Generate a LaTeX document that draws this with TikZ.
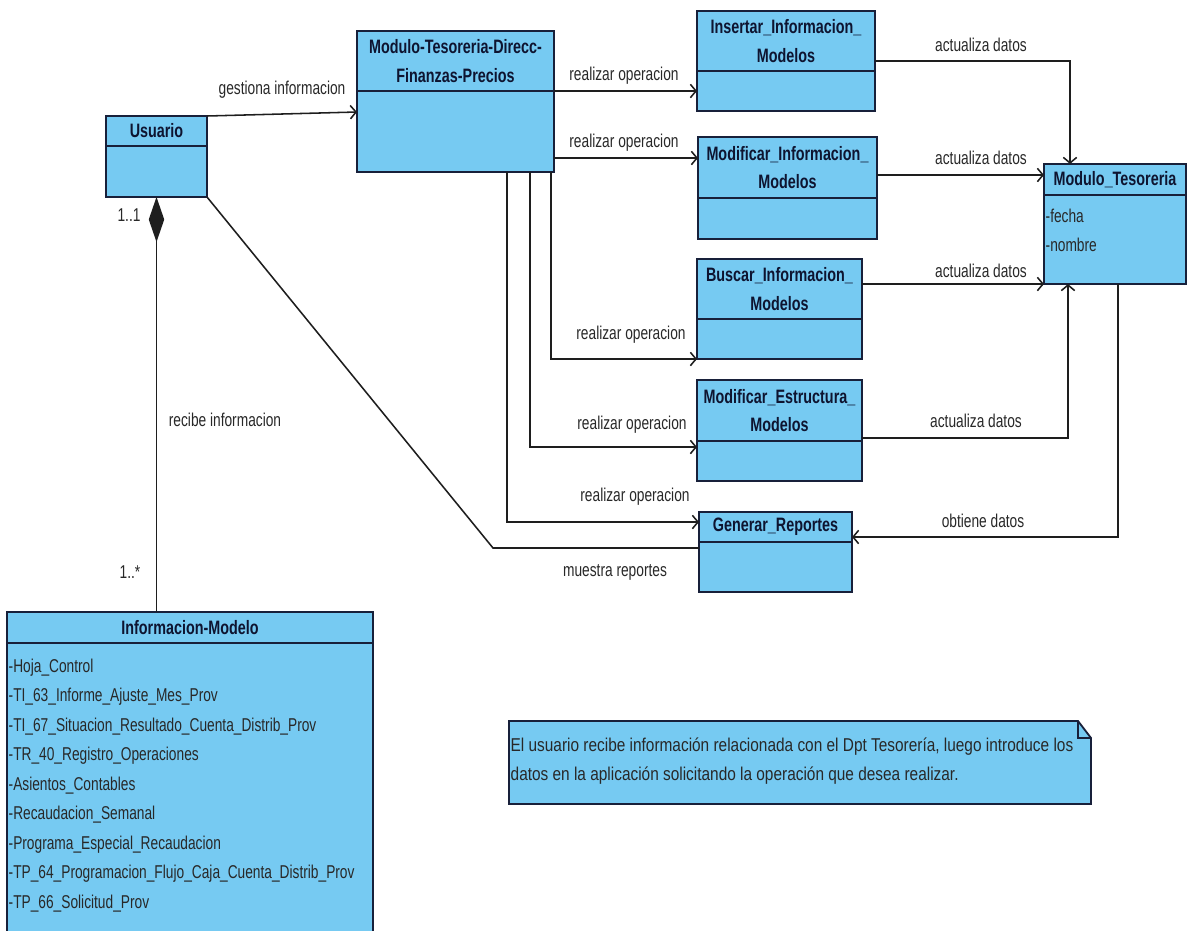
\documentclass[tikz,border=0pt]{standalone}
\usepackage{fontspec}
\setmainfont{Liberation Sans}[FakeStretch=0.74]
\newfontfamily\notefont{Liberation Sans}[FakeStretch=0.83]
\usetikzlibrary{arrows.meta,positioning}
\definecolor{umlfill}{RGB}{118,202,242}
\definecolor{umlline}{RGB}{24,32,58}
\definecolor{umltext}{RGB}{14,20,48}
\definecolor{linkcol}{RGB}{30,30,30}
\definecolor{txtcol}{RGB}{40,40,40}
\newdimen\pxu \pxu=0.025cm
\tikzset{
  hdr/.style={rectangle, draw=umlline, fill=umlfill, line width=1.3pt, inner sep=1pt, outer sep=0pt, align=center, text=umltext, font=\fontsize{13.8}{20.5}\selectfont\bfseries, anchor=north west},
  bdy/.style={rectangle, draw=umlline, fill=umlfill, line width=1.3pt, inner sep=0pt, outer sep=0pt},
  attr/.style={anchor=north west, align=left, inner sep=1pt, text=txtcol, font=\fontsize{13.2}{21}\selectfont},
  lbl/.style={inner sep=1pt, text=txtcol, font=\fontsize{13.2}{21}\selectfont},
  arr/.style={draw=linkcol, line width=1.1pt, -{Straight Barb[length=4pt,width=9.5pt]}},
  lnk/.style={draw=linkcol, line width=1.1pt}
}

\begin{document}
\begin{tikzpicture}[x=0.025cm, y=-0.025cm]
\useasboundingbox (0,0) rectangle (1188,930);

% classes
\node[hdr, minimum width=101\pxu, minimum height=30\pxu] (usr) at (106,116) {Usuario};
\node[bdy, below=0pt of usr, minimum width=101\pxu, minimum height=51\pxu] (usr-b) {};

\node[hdr, minimum width=197\pxu, minimum height=60\pxu] (mtd) at (357,31) {Modulo-Tesoreria-Direcc-\\Finanzas-Precios};
\node[bdy, below=0pt of mtd, minimum width=197\pxu, minimum height=81\pxu] (mtd-b) {};

\node[hdr, minimum width=178\pxu, minimum height=60\pxu] (ins) at (697,11) {Insertar\_Informacion\_\\Modelos};
\node[bdy, below=0pt of ins, minimum width=178\pxu, minimum height=40\pxu] (ins-b) {};

\node[hdr, minimum width=179\pxu, minimum height=61\pxu] (mim) at (698,137) {Modificar\_Informacion\_\\Modelos};
\node[bdy, below=0pt of mim, minimum width=179\pxu, minimum height=41\pxu] (mim-b) {};

\node[hdr, minimum width=165\pxu, minimum height=60\pxu] (bus) at (697,259) {Buscar\_Informacion\_\\Modelos};
\node[bdy, below=0pt of bus, minimum width=165\pxu, minimum height=40\pxu] (bus-b) {};

\node[hdr, minimum width=165\pxu, minimum height=61\pxu] (mes) at (697,380) {Modificar\_Estructura\_\\Modelos};
\node[bdy, below=0pt of mes, minimum width=165\pxu, minimum height=40\pxu] (mes-b) {};

\node[hdr, minimum width=153\pxu, minimum height=30\pxu] (gen) at (699,512) {Generar\_Reportes};
\node[bdy, below=0pt of gen, minimum width=153\pxu, minimum height=50\pxu] (gen-b) {};

\node[hdr, minimum width=142\pxu, minimum height=31\pxu] (mt) at (1044,164) {Modulo\_Tesoreria};
\node[bdy, below=0pt of mt, minimum width=142\pxu, minimum height=89\pxu] (mt-b) {};
\node[attr] (mt-a) at (1044,207) {-fecha\\-nombre};

\node[hdr, minimum width=366\pxu, minimum height=31\pxu] (inf) at (7,612) {Informacion-Modelo};
\node[bdy, below=0pt of inf, minimum width=366\pxu, minimum height=300\pxu] (inf-b) {};
\node[attr] (inf-a) at (7,657) {-Hoja\_Control\\-TI\_63\_Informe\_Ajuste\_Mes\_Prov\\-TI\_67\_Situacion\_Resultado\_Cuenta\_Distrib\_Prov\\-TR\_40\_Registro\_Operaciones\\-Asientos\_Contables\\-Recaudacion\_Semanal\\-Programa\_Especial\_Recaudacion\\-TP\_64\_Programacion\_Flujo\_Caja\_Cuenta\_Distrib\_Prov\\-TP\_66\_Solicitud\_Prov};

% composition Usuario - Informacion-Modelo
\draw[lnk, {Diamond[length=32pt,width=11pt]}-] (usr-b.south) -- (usr-b.south |- inf.north);
\node[lbl] (m11) at (129,215) {1..1};
\node[lbl] (rec) at (225,420) {recibe informacion};
\node[lbl] (m1n) at (130,572) {1..*};

% Usuario -> modulo
\draw[arr] (usr.north east) -- (mtd-b.west |- 0,112);
\node[lbl] (l-gest) at (282,90) {gestiona informacion};
\draw[lnk] (usr-b.south east) -- (493,548) -- (gen-b.west |- 0,548);
\node[lbl] (l-mues) at (615,572) {muestra reportes};

% realizar operacion
\draw[arr] (mtd-b.north east) -- (mtd-b.north east -| ins-b.west);
\node[lbl] (l-op1) at (624,76) {realizar operacion};
\draw[arr] (mtd-b.east |- 0,158) -- (mim.west |- 0,158);
\node[lbl] (l-op2) at (624,143) {realizar operacion};
\draw[arr] (mtd-b.south -| 551,0) |- (bus-b.south west);
\node[lbl] (l-op3) at (631,335) {realizar operacion};
\draw[arr] (mtd-b.south -| 530,0) |- (mes-b.west |- 0,447);
\node[lbl] (l-op4) at (632,425) {realizar operacion};
\draw[arr] (mtd-b.south -| 507,0) |- (gen.west |- 0,522);
\node[lbl] (l-op5) at (635,497) {realizar operacion};

% actualiza datos
\draw[arr] (ins.east |- 0,61) -| (mt.north -| 1070,0);
\node[lbl] (l-ac1) at (981,45) {actualiza datos};
\draw[arr] (mim.east |- 0,175) -- (mt.west |- 0,175);
\node[lbl] (l-ac2) at (981,158) {actualiza datos};
\draw[arr] (bus.east |- mt-b.south west) -- (mt-b.south west);
\node[lbl] (l-ac3) at (981,271) {actualiza datos};
\draw[arr] (mes.east |- 0,438) -| (mt-b.south -| 1068,0);
\node[lbl] (l-ac4) at (976,421) {actualiza datos};
\draw[arr] (mt-b.south -| 1118,0) |- (gen.east |- 0,537);
\node[lbl] (l-obt) at (983,521) {obtiene datos};

% note
\filldraw[fill=umlfill, draw=umlline, line width=1.3pt] (509,721) -- (1078,721) -- (1091,738) -- (1091,804) -- (509,804) -- cycle;
\draw[umlline, line width=0.8pt] (1078,721) -- (1078,738) -- (1091,738);
\node[attr, font=\notefont\fontsize{13.2}{21}\selectfont] (note) at (509,736) {El usuario recibe información relacionada con el Dpt Tesorería, luego introduce los\\datos en la aplicación solicitando la operación que desea realizar.};
\end{tikzpicture}
\end{document}
